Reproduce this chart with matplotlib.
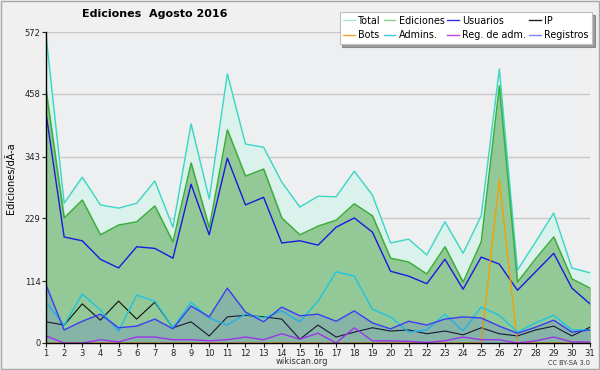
"""
Graphique des éditions quotidiennes - Agosto 2016 (wikiscan)
"""
import matplotlib
matplotlib.use("Agg")
import matplotlib.pyplot as plt
from matplotlib.patches import Rectangle

# Données
dias = list(range(1, 32))
total = [566, 257, 305, 254, 248, 257, 298, 213, 403, 265, 495, 366, 360, 296, 250,
         270, 269, 316, 272, 184, 191, 162, 223, 165, 234, 504, 134, 186, 239, 138, 129]
ediciones = [465, 230, 263, 199, 217, 223, 252, 186, 331, 212, 392, 307, 320, 230, 199,
             215, 226, 256, 234, 156, 149, 127, 177, 112, 186, 473, 112, 155, 195, 118, 101]
usuarios = [423, 195, 188, 154, 138, 177, 174, 156, 292, 199, 340, 254, 268, 184, 188,
            180, 213, 230, 204, 132, 123, 109, 154, 99, 158, 145, 97, 131, 165, 101, 72]
ip = [39, 33, 72, 42, 77, 44, 75, 28, 39, 13, 48, 51, 48, 44, 7,
      33, 11, 20, 28, 22, 24, 17, 22, 15, 28, 17, 13, 24, 31, 13, 29]
bots = [0, 0, 0, 0, 0, 0, 0, 0, 0, 0, 0, 0, 0, 0, 0,
        0, 0, 0, 0, 0, 0, 0, 0, 0, 0, 300, 0, 0, 0, 0, 0]
admins = [75, 33, 90, 61, 22, 88, 77, 28, 75, 46, 33, 53, 46, 59, 39,
          77, 131, 123, 62, 48, 20, 24, 53, 22, 66, 51, 20, 37, 51, 24, 24]
reg_adm = [13, 0, 0, 6, 2, 11, 11, 6, 6, 4, 6, 11, 6, 17, 7,
           18, 0, 28, 4, 4, 3, 1, 4, 11, 6, 6, 0, 4, 11, 2, 2]
registros = [107, 24, 40, 53, 28, 31, 44, 26, 68, 48, 101, 57, 39, 66, 50,
             53, 40, 59, 37, 26, 40, 33, 44, 48, 46, 31, 18, 29, 42, 20, 24]

yticks = [0, 114, 229, 343, 458, 572]

fig = plt.figure(figsize=(6, 3.7), dpi=100, facecolor="#f0f0f0")
fig.patches.append(Rectangle((0.002, 0.003), 0.996, 0.994, transform=fig.transFigure,
                             fill=False, edgecolor="#a8a8a8", linewidth=1))

ax = fig.add_axes([46 / 600, 1 - 343 / 370, 544 / 600, 311 / 370])
ax.set_facecolor("#eeeff1")

# Zones remplies
ax.fill_between(dias, 0, total, color="#dbf1eb", zorder=1)
ax.fill_between(dias, 0, ediciones, color="#92c996", zorder=2)

# Courbes
ax.plot(dias, total, color="#3ad6c6", lw=1, zorder=3)
ax.plot(dias, ediciones, color="#3aae3a", lw=1, zorder=3)
ax.plot(dias, usuarios, color="#1a1ae0", lw=1, zorder=3)
ax.plot(dias, ip, color="#101010", lw=0.8, zorder=3)
ax.plot(dias, bots, color="#f5a000", lw=1, zorder=3)
ax.plot(dias, admins, color="#1ec4e4", lw=1, zorder=3)
ax.plot(dias, reg_adm, color="#b030e8", lw=1, zorder=3)
ax.fill_between(dias, 0, registros, color="#4848ff", alpha=0.16, lw=0, zorder=4)
ax.plot(dias, registros, color="#3c3cf4", lw=1, zorder=4)

ax.set_xlim(1, 31)
ax.set_ylim(0, 572)
ax.set_xticks(dias)
ax.set_yticks(yticks)
ax.tick_params(axis="both", labelsize=6, length=3, width=0.8, pad=1, colors="#222222")
ax.grid(axis="y", color="#c8c8c8", lw=1, zorder=0)
ax.set_axisbelow(True)
for side in ["top", "right"]:
    ax.spines[side].set_visible(False)
for side in ["left", "bottom"]:
    ax.spines[side].set_color("black")
    ax.spines[side].set_linewidth(1)
    ax.spines[side].set_zorder(6)

# Textes
fig.text(0.258, 0.962, "Ediciones  Agosto 2016", ha="center", va="center",
         fontsize=8, fontweight="bold")
fig.text(0.017, 0.519, "Ediciones/dÃ-a", rotation=90, ha="center", va="center", fontsize=7)
fig.text(0.503, 0.022, "wikiscan.org", ha="center", va="center", fontsize=6, color="#333333")
fig.text(0.983, 0.019, "CC BY-SA 3.0", ha="right", va="center", fontsize=4.7, color="#333333")

# Légende (ordre colonne par colonne)
etiquettes = ["Total", "Bots", "Ediciones", "Admins.", "Usuarios", "Reg. de adm.", "IP", "Registros"]
couleurs = ["#a8e8e0", "#f5a030", "#8cd08c", "#40c8e0", "#3030e0", "#c040e8", "#202020", "#8080f0"]
poignees = [plt.Line2D([], [], color=c, lw=1) for c in couleurs]
leg = fig.legend(poignees, etiquettes, ncol=4, loc="upper right", bbox_to_anchor=(0.987, 0.968),
                 fontsize=6.9, frameon=True, fancybox=False, shadow=True, handlelength=1.2,
                 handletextpad=0.35, columnspacing=0.3, labelspacing=0.45, borderpad=0.4,
                 borderaxespad=0)
leg.get_frame().set_edgecolor("#c0c0c0")
leg.get_frame().set_linewidth(0.8)

fig.savefig("out.png", dpi=100, facecolor=fig.get_facecolor())
